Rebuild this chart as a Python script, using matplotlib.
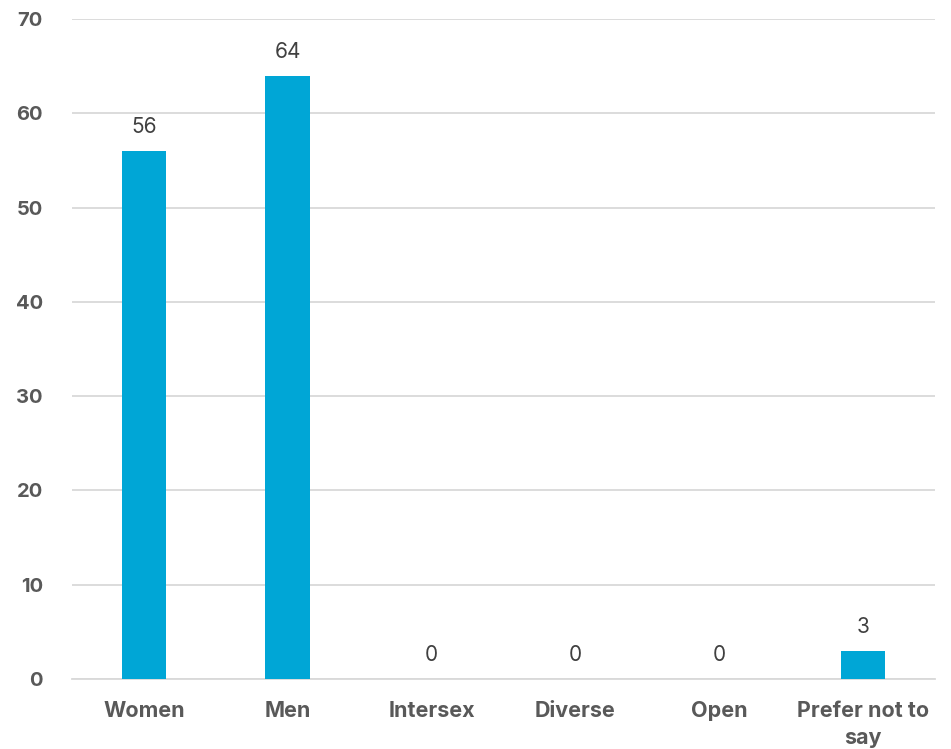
import numpy as np
import matplotlib.pyplot as plt

categories = ["Women", "Men", "Intersex", "Diverse", "Open", "Prefer not to\nsay"]
counts = [56, 64, 0, 0, 0, 3]

plt.rcParams['font.family'] = ['Inter', 'DejaVu Sans']

fig = plt.figure(figsize=(9.51, 7.49), dpi=100)
ax = fig.add_axes([72/951, 70/749, 863/951, 660/749])

x = np.arange(len(categories))
bars = ax.bar(x, counts, width=0.31, color='#00A6D6', zorder=3)

for xi, v in zip(x, counts):
    ax.annotate(str(v), (xi, v), xytext=(0, 10), textcoords='offset points',
                ha='center', va='bottom', fontsize=15, color='#404040')

ax.set_xlim(-0.5, len(categories) - 0.5)
ax.set_ylim(0, 70)
ax.set_yticks(range(0, 71, 10))
ax.yaxis.grid(True, color='#D9D9D9', linewidth=1.3, zorder=0)
ax.set_xticks(x)
ax.set_xticklabels(categories, fontsize=15.5, fontweight='bold', color='#595959', linespacing=1.45)
for lab in ax.get_yticklabels():
    lab.set_fontsize(14.5)
    lab.set_fontweight('bold')
    lab.set_color('#595959')

ax.tick_params(axis='both', length=0)
ax.tick_params(axis='x', pad=16)
ax.tick_params(axis='y', pad=21)
for s in ['top', 'right', 'left']:
    ax.spines[s].set_visible(False)
ax.spines['bottom'].set_color('#D9D9D9')
ax.spines['bottom'].set_linewidth(1.3)

fig.savefig('out.png', dpi=100)
